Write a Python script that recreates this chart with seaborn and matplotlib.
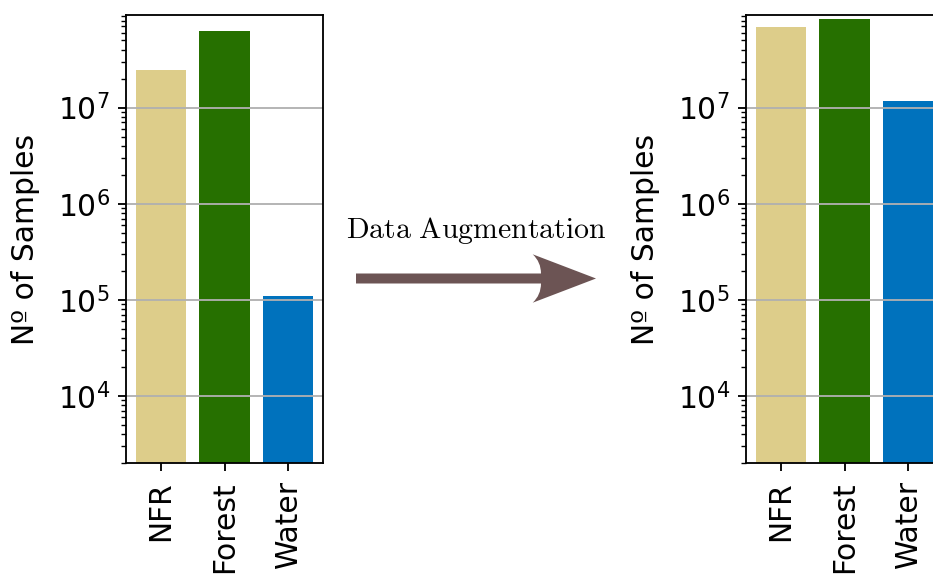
import matplotlib
matplotlib.use("Agg")
import matplotlib.pyplot as plt
from matplotlib.path import Path
from matplotlib.patches import PathPatch
import seaborn as sns

# DATA (log scale)
classes = ["NFR", "Forest", "Water"]
samples_before = [2.44e7, 6.3e7, 1.09e5]
samples_after = [6.95e7, 8.36e7, 1.18e7]
class_colors = ["#DDCD8A", "#267000", "#0072BD"]

# FIGURE SETUP
W, H, DPI = 934, 574, 165
plt.rcParams["font.family"] = ["DejaVu Sans"]
plt.rcParams["mathtext.fontset"] = "cm"
plt.rcParams["font.size"] = 13

fig = plt.figure(figsize=(W / DPI, H / DPI), dpi=DPI)

ax_w = 197 / W
ax_h = 448 / H
ax_b = (H - 463) / H
ax_left = fig.add_axes([126 / W, ax_b, ax_w, ax_h])
ax_right = fig.add_axes([746 / W, ax_b, ax_w, ax_h])


def draw_counts(ax, values):
    sns.barplot(
        x=classes, y=values, hue=classes, palette=class_colors,
        saturation=1, width=0.8, linewidth=0, legend=False, ax=ax
    )
    ax.set_yscale("log")
    ax.set_ylim(2.0e3, 9.2e7)
    ax.set_xlim(-0.55, 2.55)
    ax.grid(axis="y", which="major", color="#b0b0b0", linewidth=0.8)
    ax.set_ylabel("Nº of Samples", fontsize=13, labelpad=7.5)
    ax.set_xlabel("")
    ax.tick_params(axis="x", labelrotation=90, labelsize=13, pad=4.5)
    ax.tick_params(axis="y", labelsize=13)
    for s in ax.spines.values():
        s.set_color("black")
        s.set_linewidth(0.8)


draw_counts(ax_left, samples_before)
draw_counts(ax_right, samples_after)

# ARROW between the two panels (pixel coords -> figure fraction)
def px(x, y):
    return (x / W, 1 - y / H)

verts = [
    px(356, 273.5), px(541, 273.5),
    px(541, 262), px(532.7, 254.3),
    px(596, 278.5),
    px(532.7, 302.7),
    px(541, 295), px(541, 283.5),
    px(356, 283.5), px(356, 273.5),
]
codes = [
    Path.MOVETO, Path.LINETO,
    Path.CURVE3, Path.CURVE3,
    Path.LINETO,
    Path.LINETO,
    Path.CURVE3, Path.CURVE3,
    Path.LINETO, Path.CLOSEPOLY,
]
arrow = PathPatch(Path(verts, codes), facecolor="#6C5454",
                  edgecolor="none", transform=fig.transFigure)
fig.patches.append(arrow)

fig.text(476 / W, 1 - 231 / H, r"$\mathrm{Data\ Augmentation}$",
         ha="center", va="center", fontsize=13)

fig.savefig("out.png", dpi=DPI)
